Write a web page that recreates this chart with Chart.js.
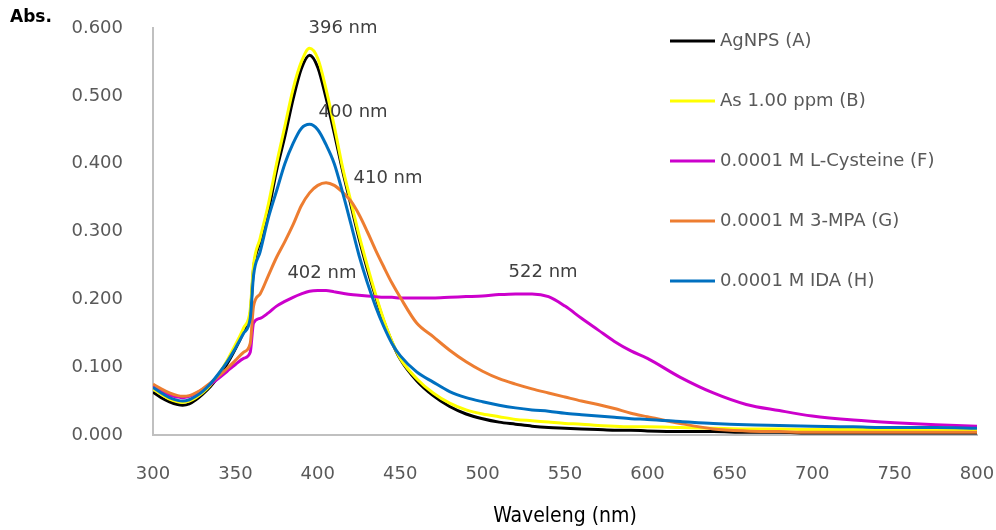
<!DOCTYPE html>
<html>
<head>
<meta charset="utf-8">
<script src="https://cdn.jsdelivr.net/npm/chart.js@4.4.1/dist/chart.umd.min.js"></script>
<style>
  html, body { margin: 0; padding: 0; background: #fff; }
  #wrap { width: 996px; height: 530px; }
</style>
</head>
<body>
<div id="wrap"><canvas id="absChart" width="996" height="530"></canvas></div>
<script>
// wavelengths (nm) shared by every spectrum
const wavelengths = [300, 305, 310, 315, 318, 322, 326, 330, 335, 340, 345, 350, 355, 359, 361, 365, 370, 375, 380, 385,
  390, 395, 400, 405, 410, 415, 420, 425, 430, 435, 440, 445, 450, 460, 470, 480, 490, 500, 510, 520,
  530, 540, 550, 560, 570, 580, 590, 600, 620, 640, 660, 680, 700, 725, 750, 775, 800];

// absorbance
const agnpsA = [0.063, 0.055, 0.049, 0.045, 0.044, 0.046, 0.052, 0.060, 0.072, 0.087, 0.105, 0.127, 0.152, 0.178,
  0.245, 0.285, 0.330, 0.390, 0.440, 0.495, 0.540, 0.560, 0.542, 0.497, 0.445, 0.390, 0.340, 0.290, 0.245, 0.205, 0.168, 0.137, 0.112,
  0.080, 0.058, 0.042, 0.031, 0.024, 0.019, 0.016, 0.013, 0.011, 0.010, 0.009, 0.008, 0.007, 0.007, 0.006, 0.005, 0.005, 0.004, 0.004, 0.003, 0.003, 0.003, 0.003, 0.003];
const arsenicB = [0.068, 0.060, 0.053, 0.049, 0.048, 0.050, 0.055, 0.062, 0.074, 0.090, 0.110, 0.133, 0.158, 0.185,
  0.250, 0.290, 0.340, 0.400, 0.455, 0.510, 0.550, 0.570, 0.555, 0.510, 0.455, 0.395, 0.345, 0.295, 0.250, 0.208, 0.170, 0.138, 0.113,
  0.083, 0.062, 0.047, 0.037, 0.031, 0.027, 0.023, 0.021, 0.019, 0.017, 0.016, 0.014, 0.013, 0.012, 0.012, 0.011, 0.010, 0.009, 0.009, 0.008, 0.008, 0.008, 0.007, 0.007];
const cysteineF = [0.072, 0.065, 0.059, 0.056, 0.055, 0.057, 0.061, 0.067, 0.075, 0.084, 0.094, 0.104, 0.113, 0.122,
  0.165, 0.172, 0.180, 0.190, 0.197, 0.203, 0.208, 0.212, 0.213, 0.213, 0.211, 0.209, 0.207, 0.206, 0.205, 0.204, 0.203, 0.203, 0.202,
  0.202, 0.202, 0.203, 0.204, 0.205, 0.207, 0.208, 0.208, 0.204, 0.190, 0.172, 0.155, 0.138, 0.124, 0.113, 0.085, 0.062, 0.045, 0.036, 0.028, 0.022, 0.018, 0.015, 0.013];
const mpaG = [0.075, 0.068, 0.062, 0.058, 0.057, 0.058, 0.062, 0.068, 0.077, 0.087, 0.098, 0.110, 0.122, 0.135,
  0.190, 0.208, 0.235, 0.262, 0.285, 0.310, 0.338, 0.357, 0.368, 0.372, 0.368, 0.358, 0.345, 0.325, 0.300, 0.273, 0.248, 0.224, 0.203,
  0.165, 0.145, 0.125, 0.108, 0.094, 0.083, 0.075, 0.068, 0.062, 0.056, 0.050, 0.045, 0.039, 0.032, 0.027, 0.017, 0.009, 0.006, 0.005, 0.004, 0.004, 0.004, 0.004, 0.004];
const idaH = [0.070, 0.062, 0.055, 0.051, 0.050, 0.052, 0.057, 0.064, 0.076, 0.091, 0.108, 0.128, 0.150, 0.172,
  0.235, 0.270, 0.320, 0.360, 0.400, 0.430, 0.452, 0.458, 0.450, 0.428, 0.400, 0.358, 0.312, 0.265, 0.225, 0.190, 0.160, 0.135, 0.117,
  0.093, 0.078, 0.064, 0.055, 0.049, 0.044, 0.040, 0.037, 0.035, 0.032, 0.030, 0.028, 0.026, 0.024, 0.023, 0.020, 0.017, 0.015, 0.014, 0.013, 0.012, 0.011, 0.011, 0.010];

const seriesNames = ['AgNPS (A)', 'As 1.00 ppm (B)', '0.0001 M L-Cysteine (F)', '0.0001 M 3-MPA (G)', '0.0001 M IDA (H)'];
const seriesValues = [agnpsA, arsenicB, cysteineF, mpaG, idaH];
const seriesColors = ['#000000', '#ffff00', '#cc00cc', '#ed7d31', '#0070c0'];

const peakTexts = ['396 nm', '400 nm', '410 nm', '402 nm', '522 nm'];

const FONT = '"DejaVu Sans", "Noto Sans", sans-serif';

// legend drawn inside the plot, like the original
const sideLegend = {
  id: 'sideLegend',
  afterDraw(chart) {
    const ctx = chart.ctx;
    ctx.save();
    ctx.font = '18px ' + FONT;
    ctx.textBaseline = 'middle';
    ctx.textAlign = 'left';
    chart.data.datasets.forEach((ds, i) => {
      const y = 41 + i * 60;
      ctx.strokeStyle = ds.borderColor;
      ctx.lineWidth = 3;
      ctx.beginPath();
      ctx.moveTo(670, y);
      ctx.lineTo(715, y);
      ctx.stroke();
      ctx.fillStyle = '#595959';
      ctx.fillText(ds.label, 720, y);
    });
    ctx.restore();
  }
};

// peak labels + axis titles
const textBits = {
  id: 'textBits',
  afterDraw(chart) {
    const ctx = chart.ctx;
    const xs = chart.scales.x, ys = chart.scales.y;
    const anchors = [[415.3, 0.600], [421.4, 0.476], [442.6, 0.379], [402.5, 0.239], [536.7, 0.240]];
    ctx.save();
    ctx.textAlign = 'center';
    ctx.textBaseline = 'middle';
    ctx.font = '18px ' + FONT;
    ctx.fillStyle = '#404040';
    peakTexts.forEach((t, i) => {
      ctx.fillText(t, xs.getPixelForValue(anchors[i][0]), ys.getPixelForValue(anchors[i][1]));
    });
    ctx.fillStyle = '#000';
    ctx.font = '21px "DejaVu Sans Condensed", "Liberation Sans Narrow", sans-serif';
    ctx.fillText('Waveleng (nm)', (chart.chartArea.left + chart.chartArea.right) / 2, 517);
    ctx.textAlign = 'left';
    ctx.font = 'bold 17px ' + FONT;
    ctx.fillText('Abs.', 10, 18);
    ctx.restore();
  }
};

const datasets = seriesNames.map((name, i) => ({
  label: name,
  data: wavelengths.map((w, j) => ({ x: w, y: seriesValues[i][j] })),
  borderColor: seriesColors[i],
  backgroundColor: seriesColors[i],
  borderWidth: 3,
  pointRadius: 0,
  cubicInterpolationMode: 'monotone',
  order: seriesNames.length - i
}));

const ctx = document.getElementById('absChart').getContext('2d');
const absChart = new Chart(ctx, {
  type: 'line',
  data: { datasets: datasets },
  options: {
    responsive: false,
    animation: false,
    layout: { padding: { top: 28, right: 19, left: 0, bottom: 0 } },
    plugins: {
      legend: { display: false },
      tooltip: { enabled: false }
    },
    scales: {
      x: {
        type: 'linear',
        min: 300,
        max: 800,
        afterFit(scale) {
          scale.height = 95;
          scale.paddingLeft = 0;
          scale.paddingRight = 0;
        },
        grid: { display: false, drawTicks: false },
        border: { display: true, color: '#c0c0c0', width: 2 },
        ticks: { stepSize: 50, color: '#595959', padding: 29, font: { size: 18, family: FONT } }
      },
      y: {
        min: 0,
        max: 0.6,
        afterFit(scale) {
          scale.width = 153;
          scale.paddingTop = 0;
          scale.paddingBottom = 0;
        },
        grid: { display: false, drawTicks: false },
        border: { display: true, color: '#c0c0c0', width: 2 },
        ticks: {
          stepSize: 0.1,
          color: '#595959',
          padding: 30,
          font: { size: 18, family: FONT },
          callback: v => v.toFixed(3)
        }
      }
    }
  },
  plugins: [sideLegend, textBits]
});
</script>
</body>
</html>
